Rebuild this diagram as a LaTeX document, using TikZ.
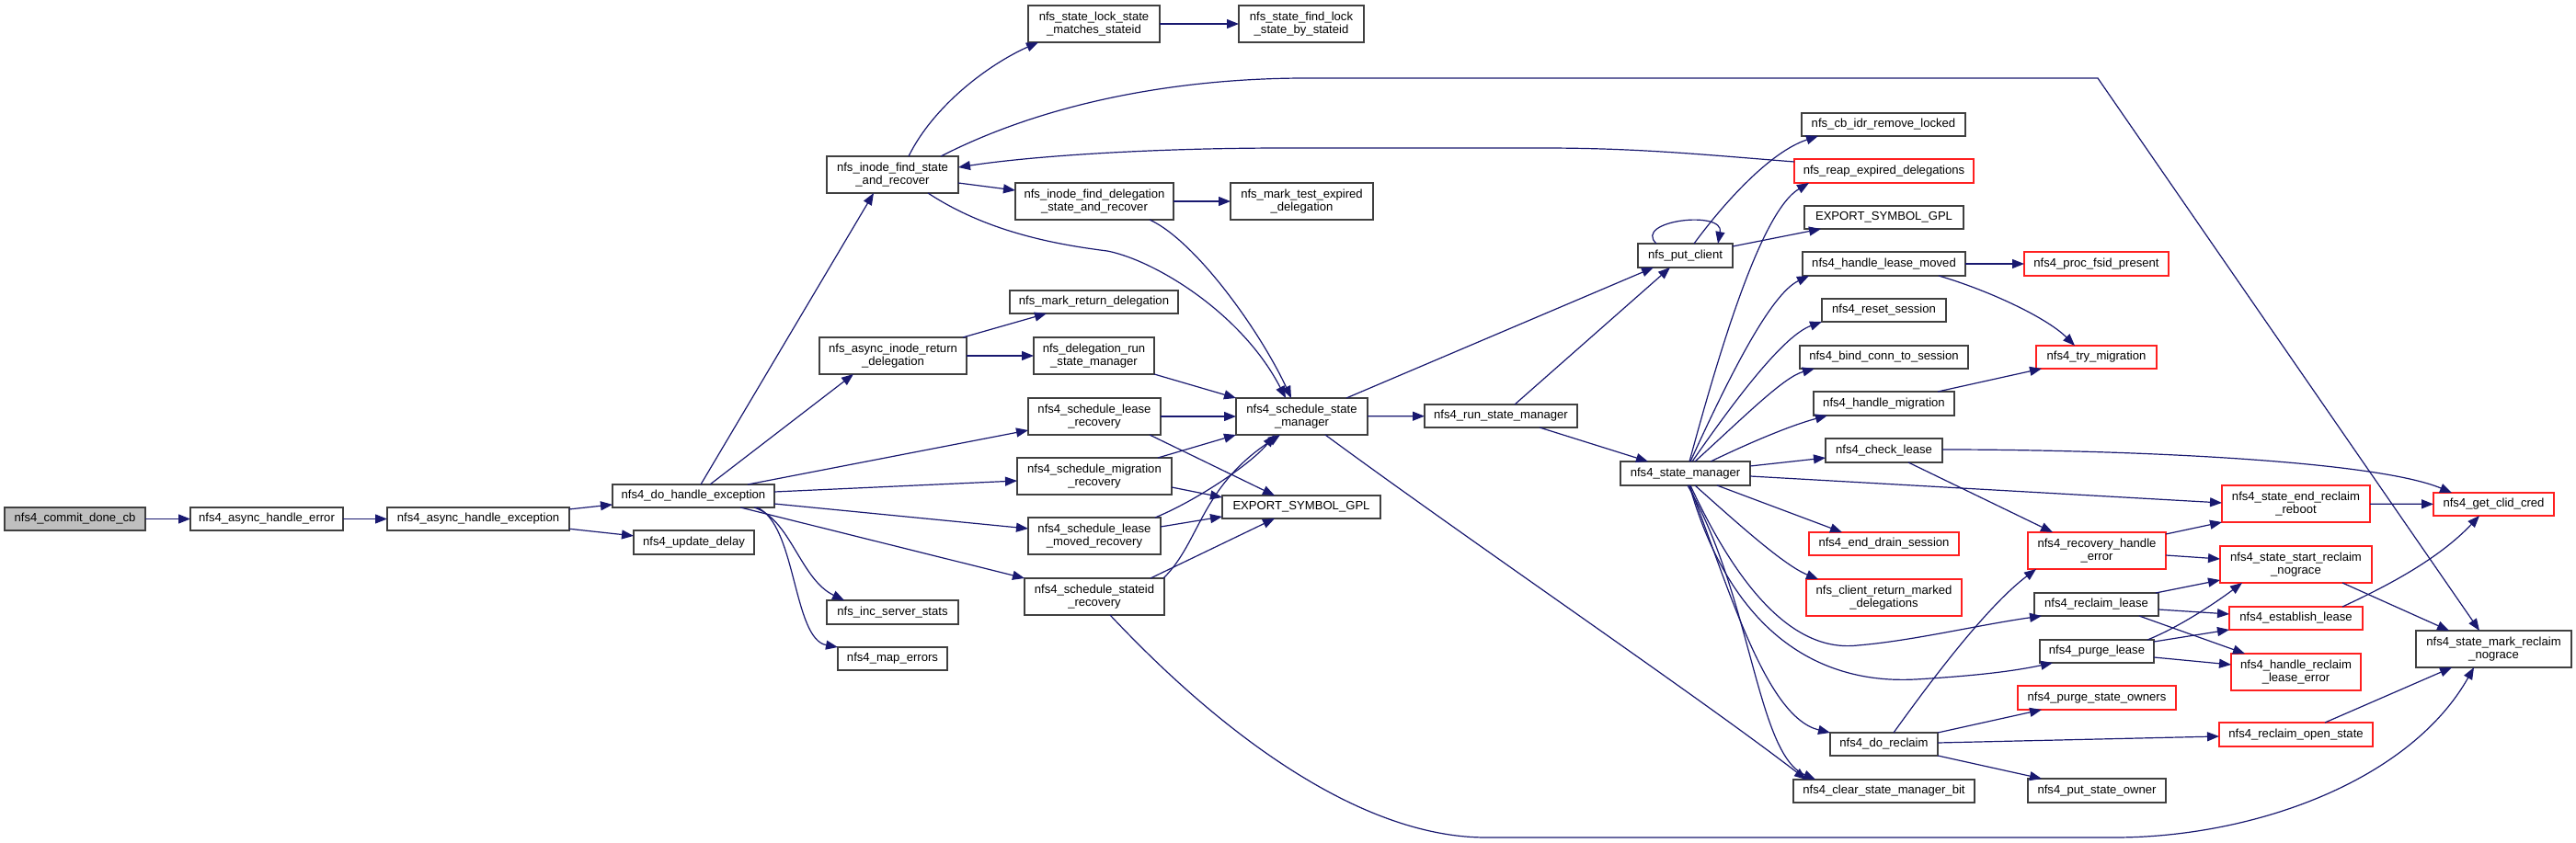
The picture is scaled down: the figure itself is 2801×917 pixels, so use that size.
\documentclass[tikz,border=0pt]{standalone}
\usepackage{fontspec}
\setmainfont{Liberation Sans}
\usetikzlibrary{arrows.meta,calc}
\definecolor{edgec}{HTML}{191970}
\definecolor{bord}{HTML}{404040}
\definecolor{rootfill}{HTML}{BFBFBF}
\definecolor{redb}{HTML}{FF2020}
\newcommand{\bx}[7]{\node[#1, minimum width={#4-#2}, minimum height={#5-#3}] (#6) at ({(#2+#4)/2},{(#3+#5)/2}) {#7};}
\begin{document}
\begin{tikzpicture}[x=1pt,y=-1pt,
  nb/.style={draw=bord, line width=1.6pt, fill=white, inner sep=0pt, outer sep=0pt, align=center, font=\fontsize{13.1}{14.6}\selectfont},
  nr/.style={nb, draw=redb},
  nroot/.style={nb, fill=rootfill},
  ed/.style={draw=edgec, line width=1.2pt, -{Triangle[length=13pt,width=10pt]}}]
\fill[white] (0,0) rectangle (2801,917);
\useasboundingbox (0,0) rectangle (2801,917);
\bx{nroot}{5}{552}{158}{577}{A}{nfs4\_commit\_done\_cb}
\bx{nb}{207}{552}{373}{577}{B}{nfs4\_async\_handle\_error}
\bx{nb}{421}{552}{619}{577}{C}{nfs4\_async\_handle\_exception}
\bx{nb}{666}{527}{842}{552}{D}{nfs4\_do\_handle\_exception}
\bx{nb}{689}{577}{820}{603}{E}{nfs4\_update\_delay}
\bx{nb}{899}{170}{1042}{210}{F}{nfs\_inode\_find\_state\\\_and\_recover}
\bx{nb}{891}{367}{1051}{407}{G}{nfs\_async\_inode\_return\\\_delegation}
\bx{nb}{899}{653}{1042}{679}{H}{nfs\_inc\_server\_stats}
\bx{nb}{911}{704}{1030}{729}{I}{nfs4\_map\_errors}
\bx{nb}{1118}{6}{1261}{46}{J}{nfs\_state\_lock\_state\\\_matches\_stateid}
\bx{nb}{1347}{6}{1483}{46}{K}{nfs\_state\_find\_lock\\\_state\_by\_stateid}
\bx{nb}{1104}{199}{1276}{239}{L}{nfs\_inode\_find\_delegation\\\_state\_and\_recover}
\bx{nb}{1338}{199}{1493}{239}{M}{nfs\_mark\_test\_expired\\\_delegation}
\bx{nb}{1098}{316}{1281}{341}{N}{nfs\_mark\_return\_delegation}
\bx{nb}{1124}{367}{1255}{407}{O}{nfs\_delegation\_run\\\_state\_manager}
\bx{nb}{1118}{433}{1262}{473}{P}{nfs4\_schedule\_lease\\\_recovery}
\bx{nb}{1344}{433}{1487}{473}{Q}{nfs4\_schedule\_state\\\_manager}
\bx{nb}{1106}{498}{1274}{538}{R}{nfs4\_schedule\_migration\\\_recovery}
\bx{nb}{1329}{539}{1501}{564}{S}{EXPORT\_SYMBOL\_GPL}
\bx{nb}{1118}{563}{1262}{603}{T}{nfs4\_schedule\_lease\\\_moved\_recovery}
\bx{nb}{1114}{629}{1266}{669}{U}{nfs4\_schedule\_stateid\\\_recovery}
\bx{nb}{1549}{440}{1715}{465}{V}{nfs4\_run\_state\_manager}
\bx{nb}{1781}{265}{1884}{291}{W}{nfs\_put\_client}
\bx{nb}{1762}{502}{1903}{528}{X}{nfs4\_state\_manager}
\bx{nb}{1959}{123}{2137}{148}{Y}{nfs\_cb\_idr\_remove\_locked}
\bx{nr}{1951}{173}{2146}{199}{Z}{nfs\_reap\_expired\_delegations}
\bx{nb}{1962}{224}{2135}{249}{AA}{EXPORT\_SYMBOL\_GPL}
\bx{nb}{1960}{274}{2137}{300}{AB}{nfs4\_handle\_lease\_moved}
\bx{nb}{1981}{325}{2116}{350}{AC}{nfs4\_reset\_session}
\bx{nb}{1957}{376}{2140}{401}{AD}{nfs4\_bind\_conn\_to\_session}
\bx{nb}{1972}{426}{2125}{452}{AE}{nfs4\_handle\_migration}
\bx{nb}{1985}{477}{2112}{503}{AF}{nfs4\_check\_lease}
\bx{nr}{1967}{579}{2130}{604}{AG}{nfs4\_end\_drain\_session}
\bx{nr}{1964}{630}{2133}{670}{AH}{nfs\_client\_return\_marked\\\_delegations}
\bx{nb}{1990}{797}{2107}{822}{AI}{nfs4\_do\_reclaim}
\bx{nb}{1950}{848}{2147}{873}{AJ}{nfs4\_clear\_state\_manager\_bit}
\bx{nr}{2201}{274}{2358}{300}{AK}{nfs4\_proc\_fsid\_present}
\bx{nr}{2214}{376}{2345}{401}{AL}{nfs4\_try\_migration}
\bx{nr}{2205}{579}{2355}{619}{AM}{nfs4\_recovery\_handle\\\_error}
\bx{nr}{2416}{528}{2577}{568}{AN}{nfs4\_state\_end\_reclaim\\\_reboot}
\bx{nr}{2646}{536}{2777}{561}{AO}{nfs4\_get\_clid\_cred}
\bx{nr}{2414}{594}{2579}{634}{AP}{nfs4\_state\_start\_reclaim\\\_nograce}
\bx{nb}{2212}{645}{2347}{670}{AQ}{nfs4\_reclaim\_lease}
\bx{nr}{2424}{660}{2569}{685}{AR}{nfs4\_establish\_lease}
\bx{nb}{2627}{686}{2796}{726}{AS}{nfs4\_state\_mark\_reclaim\\\_nograce}
\bx{nb}{2218}{696}{2342}{721}{AT}{nfs4\_purge\_lease}
\bx{nr}{2426}{711}{2567}{751}{AU}{nfs4\_handle\_reclaim\\\_lease\_error}
\bx{nr}{2194}{746}{2366}{772}{AV}{nfs4\_purge\_state\_owners}
\bx{nr}{2413}{786}{2580}{812}{AW}{nfs4\_reclaim\_open\_state}
\bx{nb}{2205}{847}{2355}{873}{AX}{nfs4\_put\_state\_owner}
% edges
\draw[ed] (A) -- (B);
\draw[ed] (B) -- (C);
\draw[ed] (C) -- (D);
\draw[ed] (C) -- (E);
\draw[ed] ($(D.north west)+(96,0)$) -- ($(F.north west)+(51,40)$);
\draw[ed] ($(D.north west)+(106,0)$) -- ($(G.north west)+(37,40)$);
\draw[ed] ($(D.north west)+(147,0)$) -- ($(P.north west)+(0,35)$);
\draw[ed] ($(D.north west)+(176,8)$) -- ($(R.north west)+(0,25)$);
\draw[ed] ($(D.north west)+(176,21)$) -- ($(T.north west)+(0,12)$);
\draw[ed] ($(D.north west)+(139,25)$) -- (U.north west);
\draw[ed] ($(D.north west)+(154,25)$) .. controls (860,565) and (870,630) .. ($(H.north west)+(19,0)$);
\draw[ed] ($(D.north west)+(157,25)$) .. controls (866,570) and (862,695) .. (I.north west);
\draw[ed] ($(F.north west)+(89,0)$) .. controls (1015,115) and (1075,70) .. ($(J.north west)+(11,40)$);
\draw[ed] (J) -- (K);
\draw[ed] ($(F.north west)+(143,29)$) -- ($(L.north west)+(0,8)$);
\draw[ed] (L) -- (M);
\draw[ed] ($(F.north west)+(110,40)$) .. controls (1070,250) and (1140,265) .. (1204,273) .. controls (1255,283) and (1350,340) .. ($(Q.north west)+(54,0)$);
\draw[ed] ($(L.north west)+(146,40)$) .. controls (1300,262) and (1370,360) .. ($(Q.north west)+(60,0)$);
\draw[ed] ($(F.north west)+(124,0)$) .. controls (1150,105) and (1300,85) .. (1420,85) -- (2281,85) -- ($(AS.north west)+(69,0)$);
\draw[ed] ($(Z.north west)+(0,3)$) .. controls (1850,168) and (1780,161) .. (1677,161) -- (1398,161) .. controls (1250,161) and (1120,170) .. ($(F.north west)+(143,12)$);
\draw[ed] ($(G.north west)+(156,0)$) -- ($(N.north west)+(40,25)$);
\draw[ed] (G) -- (O);
\draw[ed] (O.south east) -- (Q.north west);
\draw[ed] (P) -- (Q);
\draw[ed] ($(P.north west)+(132,40)$) -- ($(S.north west)+(57,0)$);
\draw[ed] ($(R.north west)+(153,0)$) -- (Q.south west);
\draw[ed] ($(R.north west)+(168,32)$) -- ($(S.north west)+(0,2)$);
\draw[ed] ($(T.north west)+(138,0)$) .. controls (1300,545) and (1360,505) .. ($(Q.north west)+(42,40)$);
\draw[ed] ($(T.north west)+(144,10)$) -- ($(S.north west)+(0,23)$);
\draw[ed] ($(U.north west)+(151,0)$) .. controls (1305,590) and (1305,530) .. ($(Q.north west)+(48,40)$);
\draw[ed] ($(U.north west)+(137,0)$) -- ($(S.north west)+(57,25)$);
\draw[ed] ($(U.north west)+(93,40)$) .. controls (1330,800) and (1480,911) .. (1616,911) -- (2299,911) .. controls (2450,911) and (2620,850) .. ($(AS.north west)+(63,40)$);
\draw[ed] ($(Q.north west)+(120,0)$) -- ($(W.north west)+(17,26)$);
\draw[ed] (Q) -- (V);
\draw[ed] ($(Q.north west)+(97,40)$) .. controls (1600,590) and (1850,760) .. ($(AJ.north west)+(14,0)$);
\draw[ed] ($(V.north west)+(98,0)$) -- ($(W.north west)+(35,26)$);
\draw[ed] ($(V.north west)+(125,25)$) -- ($(X.north west)+(30,0)$);
\draw[ed] ($(W.north west)+(20,0)$) .. controls (1775,240) and (1875,228) .. ($(W.north west)+(87,0)$);
\draw[ed] ($(W.north west)+(61,0)$) .. controls (1875,220) and (1925,165) .. ($(Y.north west)+(18,25)$);
\draw[ed] ($(W.north west)+(103,3)$) -- ($(AA.north west)+(18,25)$);
\draw[ed] ($(X.north west)+(75,0)$) .. controls (1870,380) and (1915,230) .. ($(Z.north west)+(16,26)$);
\draw[ed] ($(X.north west)+(76,0)$) .. controls (1880,410) and (1925,320) .. ($(AB.north west)+(7,26)$);
\draw[ed] ($(X.north west)+(78,0)$) .. controls (1890,430) and (1940,365) .. (AC.south west);
\draw[ed] ($(X.north west)+(81,0)$) .. controls (1900,450) and (1940,410) .. ($(AD.north west)+(16,25)$);
\draw[ed] ($(X.north west)+(98,0)$) .. controls (1910,478) and (1950,462) .. ($(AE.north west)+(15,26)$);
\draw[ed] ($(X.north west)+(141,5)$) -- ($(AF.north west)+(0,21)$);
\draw[ed] ($(X.north west)+(141,16)$) -- ($(AN.north west)+(0,19)$);
\draw[ed] ($(X.north west)+(105,26)$) -- ($(AG.north west)+(36,0)$);
\draw[ed] ($(X.north west)+(81,26)$) .. controls (1890,570) and (1940,615) .. ($(AH.north west)+(13,0)$);
\draw[ed] ($(X.north west)+(76,26)$) .. controls (1890,640) and (1950,710) .. (2020,702) .. controls (2080,697) and (2150,680) .. ($(AQ.north west)+(8,25)$);
\draw[ed] ($(X.north west)+(75,26)$) .. controls (1880,680) and (1970,745) .. (2083,739) .. controls (2150,735) and (2190,730) .. ($(AT.north west)+(14,25)$);
\draw[ed] ($(X.north west)+(75,26)$) .. controls (1880,640) and (1920,780) .. (AI.north west);
\draw[ed] ($(X.north west)+(73,26)$) .. controls (1905,650) and (1910,820) .. ($(AJ.north west)+(24,0)$);
\draw[ed] (AB) -- (AK);
\draw[ed] ($(AB.north west)+(148,26)$) .. controls (2160,315) and (2225,345) .. ($(AL.north west)+(42,0)$);
\draw[ed] ($(AE.north west)+(135,0)$) -- ($(AL.north west)+(6,25)$);
\draw[ed] ($(AF.north west)+(127,12)$) .. controls (2300,489) and (2580,500) .. ($(AO.north west)+(20,0)$);
\draw[ed] ($(AF.north west)+(90,26)$) -- ($(AM.north west)+(27,0)$);
\draw[ed] ($(AM.north west)+(150,2)$) -- (AN.south west);
\draw[ed] ($(AM.north west)+(150,25)$) -- ($(AP.north west)+(0,14)$);
\draw[ed] (AN) -- (AO);
\draw[ed] ($(AP.north west)+(133,40)$) -- ($(AS.north west)+(36,0)$);
\draw[ed] ($(AQ.north west)+(132,0)$) -- ($(AP.north west)+(0,37)$);
\draw[ed] ($(AQ.north west)+(135,18)$) -- ($(AR.north west)+(0,8)$);
\draw[ed] ($(AQ.north west)+(114,25)$) -- ($(AU.north west)+(15,0)$);
\draw[ed] ($(AT.north west)+(117,0)$) .. controls (2370,682) and (2410,655) .. ($(AP.north west)+(24,40)$);
\draw[ed] ($(AT.north west)+(124,2)$) -- ($(AR.north west)+(0,25)$);
\draw[ed] ($(AT.north west)+(124,19)$) -- ($(AU.north west)+(0,12)$);
\draw[ed] ($(AR.north west)+(123,0)$) .. controls (2590,640) and (2650,610) .. ($(AO.north west)+(50,25)$);
\draw[ed] ($(AI.north west)+(69,0)$) .. controls (2100,740) and (2160,660) .. ($(AM.north west)+(9,40)$);
\draw[ed] ($(AI.north west)+(117,0)$) -- ($(AV.north west)+(26,26)$);
\draw[ed] ($(AI.north west)+(117,11)$) -- ($(AW.north west)+(0,15)$);
\draw[ed] (AI.south east) -- ($(AX.north west)+(15,0)$);
\draw[ed] ($(AW.north west)+(115,0)$) -- ($(AS.north west)+(39,40)$);
\end{tikzpicture}
\end{document}
